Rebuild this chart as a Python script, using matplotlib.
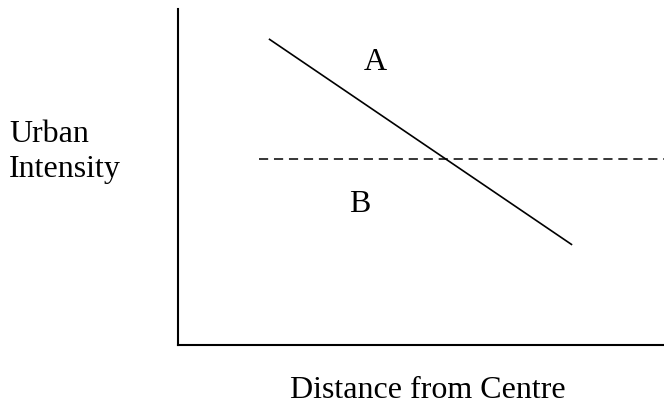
import matplotlib
matplotlib.use("Agg")
import matplotlib.pyplot as plt

# schematic: urban intensity vs distance from centre (arbitrary 0-10 units)
gradient_x = [1.87, 8.11]
gradient_y = [9.11, 2.98]
threshold_x = [1.67, 10.0]
threshold_y = [5.54, 5.54]
zone_labels = ["A", "B"]
zone_x = [4.05, 3.74]
zone_y = [8.45, 4.20]

plt.rcParams['font.family'] = ['Liberation Serif', 'DejaVu Serif']

W, H = 664, 406
fig = plt.figure(figsize=(W / 100, H / 100), dpi=100)
ax = fig.add_axes([178 / W, (H - 346) / H, (W - 178) / W, 336 / H])
ax.set_xlim(0, 10)
ax.set_ylim(0, 10)

ax.plot(gradient_x, gradient_y, color="black", linewidth=1.2, solid_capstyle="butt")
ax.plot(threshold_x, threshold_y, color="black", linewidth=1.1,
        dashes=(6.0, 3.8))
for lab, x, y in zip(zone_labels, zone_x, zone_y):
    ax.text(x, y, lab, ha="center", va="center", fontsize=23)

ax.spines["top"].set_visible(False)
ax.spines["right"].set_visible(False)
ax.spines["left"].set_linewidth(1.5)
ax.spines["bottom"].set_linewidth(1.5)
ax.set_xticks([])
ax.set_yticks([])
ax.patch.set_alpha(0)

fig.text(9 / W, 1 - 120 / H, "Urban\nIntensity", ha="left", va="top",
         fontsize=23, linespacing=1.25)
# kept just inside the bottom edge so the descent is not clipped
fig.text(428 / W, 1 / H, "Distance from Centre", ha="center",
         va="bottom", fontsize=23)

fig.savefig("out.png", dpi=100)
